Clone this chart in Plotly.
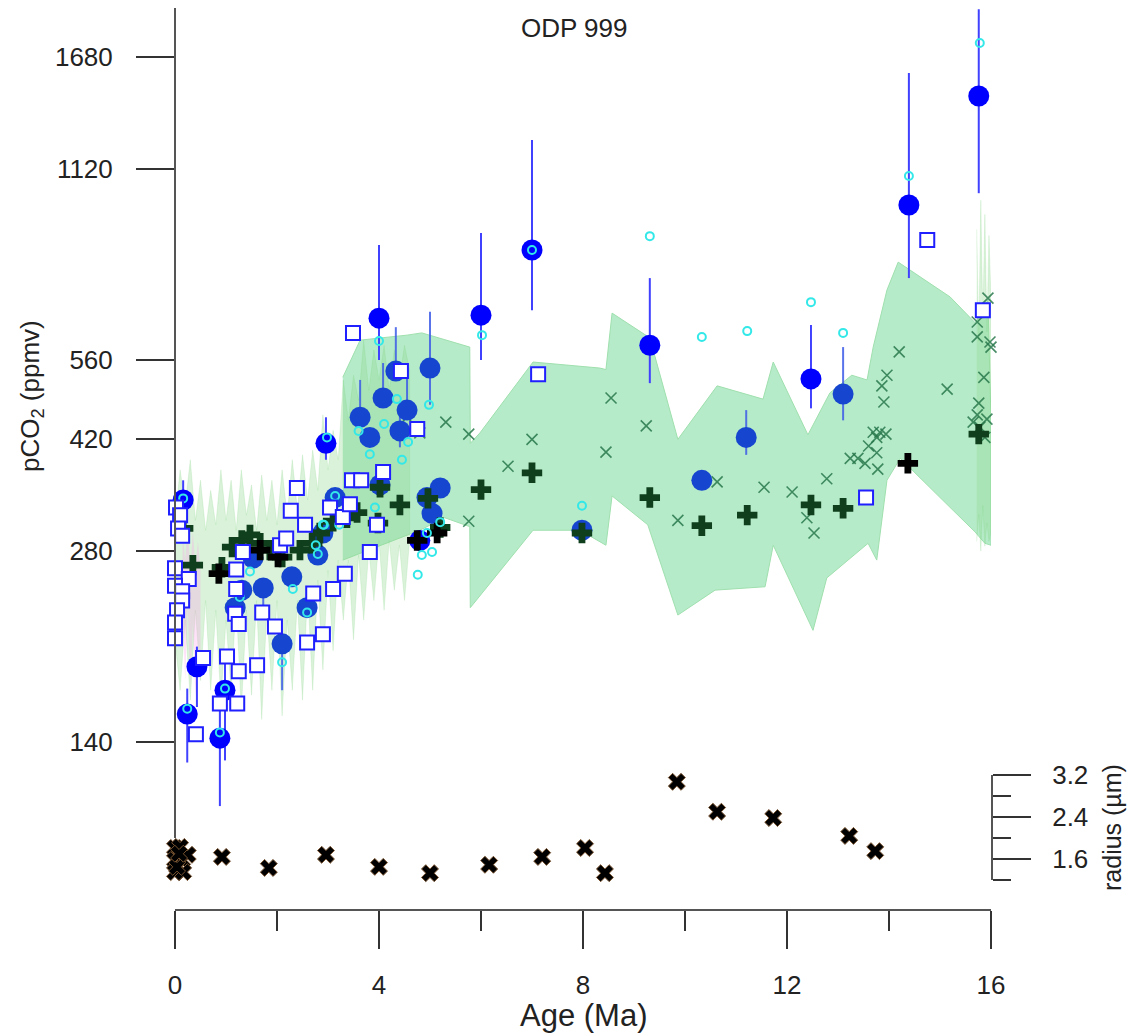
import plotly.graph_objects as go

W, H = 1130, 1036

# ---------------- data ----------------
# smoothed envelope (upper edge left->right, lower edge right->left)
band_age_upper = [3.29, 3.63, 4.55, 4.84, 5.78, 5.79, 5.98, 7.02, 8.33, 8.45, 8.57, 9.31, 9.86, 10.63, 11.53,
                  11.73, 12.41, 12.84, 13.27, 13.57, 13.69, 13.96, 14.18, 15.2, 15.69, 15.94, 16.0]
band_upper = [526, 602, 613, 618, 587, 414, 430, 556, 544, 541, 664, 607, 420, 510, 486,
              556, 427, 497, 530, 521, 587, 722, 799, 704, 641, 696, 450]
band_age_lower = [16.0, 15.88, 15.69, 14.22, 13.96, 13.76, 13.59, 12.78, 12.51, 11.73, 11.57, 10.59, 9.86,
                  9.27, 8.57, 8.45, 7.94, 7.02, 5.79, 5.78, 5.29, 4.8, 4.02, 3.29]
band_lower = [286, 288, 300, 392, 362, 271, 288, 254, 210, 286, 246, 243, 222,
              308, 342, 286, 302, 302, 228, 306, 316, 302, 286, 271]

# high-resolution spiky envelope
spike_age = [0.0, 0.1, 0.2, 0.3, 0.4, 0.5, 0.6, 0.7, 0.8, 0.9, 1.0, 1.1, 1.2, 1.3, 1.4, 1.5, 1.6, 1.7, 1.8, 1.9,
             2.0, 2.1, 2.2, 2.3, 2.4, 2.5, 2.6, 2.7, 2.8, 2.9, 3.0, 3.1, 3.2, 3.3, 3.4, 3.5, 3.6, 3.7, 3.8, 3.9,
             4.0, 4.1, 4.2, 4.3, 4.4, 4.5, 4.6]
spike_upper = [313, 376, 331, 390, 313, 362, 302, 349, 308, 376, 313, 362, 302, 376, 319, 356, 302, 369, 313, 362,
               308, 376, 319, 390, 325, 397, 337, 404, 349, 459, 376, 434, 390, 521, 450, 530, 484, 602, 502, 581,
               521, 591, 502, 581, 521, 591, 540]
spike_lower = [203, 169, 218, 163, 226, 175, 234, 169, 226, 163, 218, 169, 234, 157, 226, 166, 234, 152, 226, 169,
               234, 154, 218, 169, 234, 163, 243, 169, 252, 182, 261, 195, 271, 218, 271, 203, 276, 218, 281, 234,
               291, 226, 291, 243, 286, 234, 291]

spike2_age = [15.72, 15.76, 15.8, 15.84, 15.88, 15.92, 15.96, 16.0]
spike2_upper = [900, 600, 1000, 650, 950, 620, 880, 700]
spike2_lower = [290, 320, 280, 330, 285, 310, 290, 300]

pink_age = [0.15, 0.2, 0.25, 0.3, 0.35, 0.4, 0.45, 0.5]
pink_upper = [300, 270, 310, 260, 300, 265, 290, 260]
pink_lower = [220, 175, 230, 170, 215, 165, 200, 180]

# bright blue circles with error bars
bright_age = [0.16, 0.24, 0.43, 0.88, 0.98, 2.96, 4.0, 4.8, 6.0, 7.0, 9.31, 12.47, 14.39, 15.76]
bright_co2 = [337, 155, 184, 142, 169, 414, 652, 291, 659, 835, 591, 523, 983, 1460]
bright_hi = [362, 170, 198, 169, 188, 455, 850, 291, 888, 1244, 754, 636, 1587, 2000]
bright_lo = [321, 130, 159, 111, 131, 390, 560, 291, 560, 671, 515, 470, 754, 1026]

# royal blue circles with error bars
royal_age = [1.18, 1.31, 1.53, 1.73, 2.1, 2.29, 2.59, 2.8, 2.9, 3.14, 3.63, 3.82, 4.02, 4.08, 4.33, 4.41, 4.55,
             4.94, 5.0, 5.04, 5.2, 7.98, 10.33, 11.2, 13.1]
royal_co2 = [228, 243, 273, 245, 200, 255, 228, 276, 299, 340, 455, 423, 356, 488, 538, 433, 467,
             340, 544, 321, 352, 302, 362, 423, 495]
royal_hi = [228, 243, 273, 245, 200, 255, 228, 276, 299, 340, 521, 423, 356, 554, 631, 462, 554,
            340, 667, 321, 352, 302, 362, 467, 587]
royal_lo = [228, 243, 273, 229, 169, 255, 228, 276, 299, 340, 455, 423, 356, 488, 538, 408, 462,
            340, 476, 321, 352, 302, 362, 397, 450]

cyan_age = [0.16, 0.24, 0.98, 0.88, 1.47, 1.27, 2.31, 2.59, 2.1, 2.8, 2.9, 3.14, 2.98, 2.92, 3.22, 2.76, 3.6,
            3.82, 4.0, 4.1, 4.35, 4.57, 4.45, 4.98, 3.92, 5.2, 4.94, 4.84, 5.04, 4.76, 6.02, 7.0, 7.98, 9.31,
            10.33, 11.22, 12.47, 13.1, 14.39, 15.78]
cyan_co2 = [339, 158, 170, 145, 260, 237, 244, 224, 187, 277, 308, 342, 423, 308, 308, 286, 433,
            398, 600, 444, 486, 416, 390, 476, 328, 311, 299, 276, 279, 257, 613, 835, 330, 878,
            609, 622, 691, 618, 1092, 1769]

square_age = [0.02, 0.10, 0.06, 0.14, 0.0, 0.27, 0.0, 0.14, 0.14, 0.04, 0.0, 0.0, 0.55, 1.02, 1.25, 1.61, 0.41,
              0.88, 1.22, 1.2, 1.2, 1.33, 1.18, 1.25, 1.71, 1.96, 2.06, 2.18, 2.27, 2.39, 2.55, 2.71, 2.59, 2.9,
              3.1, 3.33, 3.04, 3.29, 3.43, 3.47, 3.65, 4.08, 3.96, 3.82, 3.49, 4.43, 4.75, 7.12, 14.75, 15.84, 13.55]
square_co2 = [328, 319, 304, 296, 263, 253, 247, 242, 234, 226, 216, 204, 190, 191, 181, 185, 144,
              161, 161, 262, 244, 279, 223, 215, 224, 213, 286, 293, 324, 352, 308, 240, 201, 207,
              244, 258, 328, 317, 332, 362, 362, 373, 308, 279, 618, 538, 436, 532, 866, 671, 340]

green_cross_age = [0.16, 0.35, 0.92, 1.12, 1.31, 1.47, 1.67, 1.86, 2.1, 2.45, 2.69, 2.84, 3.1, 3.37, 3.57, 3.98,
                   4.02, 4.41, 4.96, 5.2, 6.0, 7.0, 7.98, 9.31, 10.33, 11.22, 12.47, 13.1, 15.76]
green_cross_co2 = [304, 266, 264, 284, 291, 297, 288, 281, 274, 281, 288, 299, 312, 316, 322, 310,
                   353, 331, 339, 305, 350, 372, 299, 340, 307, 319, 331, 327, 428]

black_cross_age = [0.86, 1.67, 2.02, 4.75, 5.14, 14.37]
black_cross_co2 = [258, 281, 274, 291, 299, 385]

thin_x_age = [4.55, 4.8, 5.31, 5.76, 5.76, 6.53, 7.0, 8.45, 8.55, 9.24, 9.86, 10.63, 11.55, 12.1, 12.39,
              12.53, 12.78, 13.24, 13.39, 13.53, 13.78, 13.6, 13.76, 13.69, 13.82, 13.94, 13.76, 13.9, 13.86,
              13.96, 14.2, 15.14, 15.65, 15.73, 15.76, 15.78, 15.88, 15.92, 15.86, 15.73, 15.73, 15.98, 16.0, 15.94]
thin_x_co2 = [455, 430, 447, 428, 312, 381, 420, 401, 488, 441, 313, 360, 353, 347, 316,
              299, 364, 392, 392, 385, 377, 410, 400, 431, 431, 428, 423, 481, 510,
              530, 577, 504, 447, 459, 479, 439, 423, 452, 526, 609, 643, 598, 587, 701]

radius_age = [0.0, 0.1, 0.0, 0.14, 0.25, 0.0, 0.16, 0.04, 0.08, 0.92, 1.84, 2.96, 4.0, 5.0, 6.16, 7.2, 8.04,
              8.43, 9.84, 10.63, 11.73, 13.22, 13.73]
radius_um = [1.81, 1.83, 1.58, 1.58, 1.68, 1.35, 1.35, 1.45, 1.7, 1.64, 1.43, 1.68, 1.45, 1.33, 1.49, 1.64,
             1.81, 1.33, 3.07, 2.50, 2.38, 2.04, 1.75]

co2_ticks = [140, 280, 420, 560, 1120, 1680]
age_ticks = [0, 4, 8, 12, 16]
radius_ticks = [1.6, 2.4, 3.2]

# ---------------- figure ----------------
def fx(px):
    return px / W


def fy(py):
    return 1 - py / H


fig = go.Figure()

fig.add_trace(go.Scatter(
    x=band_age_upper + band_age_lower, y=band_upper + band_lower, fill='toself',
    fillcolor='#b6ebc9', line=dict(color='#9fe0ae', width=1), mode='lines', hoverinfo='skip'))

for ages, up, lo in [(spike_age, spike_upper, spike_lower), (spike2_age, spike2_upper, spike2_lower)]:
    fig.add_trace(go.Scatter(
        x=ages + ages[::-1], y=up + lo[::-1], fill='toself',
        fillcolor='rgba(140,215,140,0.33)', line=dict(color='rgba(120,210,120,0.35)', width=0.5),
        mode='lines', hoverinfo='skip'))

fig.add_trace(go.Scatter(
    x=pink_age + pink_age[::-1], y=pink_upper + pink_lower[::-1], fill='toself',
    fillcolor='rgba(255,160,235,0.3)', line=dict(width=0), mode='lines', hoverinfo='skip'))

fig.add_trace(go.Scatter(
    x=thin_x_age, y=thin_x_co2, mode='markers', cliponaxis=False,
    marker=dict(symbol='x-thin-open', size=11, color='rgba(40,120,75,0.85)',
                line=dict(color='rgba(40,120,75,0.85)', width=1.6))))

fig.add_trace(go.Scatter(
    x=royal_age, y=royal_co2, mode='markers', cliponaxis=False,
    error_y=dict(type='data', symmetric=False,
                 array=[h - v for h, v in zip(royal_hi, royal_co2)],
                 arrayminus=[v - l for v, l in zip(royal_co2, royal_lo)],
                 color='rgba(60,90,230,0.85)', thickness=2, width=0),
    marker=dict(size=21, color='#1646cf', line=dict(width=0))))

fig.add_trace(go.Scatter(
    x=bright_age, y=bright_co2, mode='markers', cliponaxis=False,
    error_y=dict(type='data', symmetric=False,
                 array=[h - v for h, v in zip(bright_hi, bright_co2)],
                 arrayminus=[v - l for v, l in zip(bright_co2, bright_lo)],
                 color='#4040ff', thickness=2, width=0),
    marker=dict(size=21, color='#0000ff', line=dict(width=0))))

fig.add_trace(go.Scatter(
    x=green_cross_age, y=green_cross_co2, mode='markers', cliponaxis=False,
    marker=dict(symbol='cross', size=17, color='#0f3f1c', line=dict(width=0))))

fig.add_trace(go.Scatter(
    x=black_cross_age, y=black_cross_co2, mode='markers', cliponaxis=False,
    marker=dict(symbol='cross', size=17, color='#000000', line=dict(width=0))))

fig.add_trace(go.Scatter(
    x=cyan_age, y=cyan_co2, mode='markers', cliponaxis=False,
    marker=dict(symbol='circle-open', size=8, color='#33e8e8', line=dict(color='#33e8e8', width=2))))

fig.add_trace(go.Scatter(
    x=square_age, y=square_co2, mode='markers', cliponaxis=False,
    marker=dict(symbol='square', size=14, color='white', line=dict(color='#1f1fff', width=2))))

fig.add_trace(go.Scatter(
    x=radius_age, y=radius_um, mode='markers', yaxis='y2', cliponaxis=False,
    marker=dict(symbol='x', size=15, color='#000000', line=dict(color='#7a5532', width=1))))

axis_common = dict(showline=True, linecolor='#555555', linewidth=2, ticks='outside', tickwidth=1.5,
                   tickcolor='#333333', showgrid=False, zeroline=False, automargin=False,
                   tickfont=dict(family='Liberation Sans, Arial', size=26, color='#222222'))

fig.update_layout(
    width=W, height=H, margin=dict(l=0, r=0, t=0, b=0, autoexpand=False),
    paper_bgcolor='white', plot_bgcolor='rgba(0,0,0,0)', showlegend=False,
    font=dict(family='Liberation Sans, Arial', color='#222222'),
    xaxis=dict(domain=[fx(175), fx(991)], range=[0, 16], anchor='free', position=fy(910),
               tickmode='linear', tick0=0, dtick=4, ticklen=38, ticklabelstandoff=14,
               minor=dict(ticks='outside', ticklen=20, tickmode='linear', tick0=0, dtick=2,
                          tickcolor='#333333', tickwidth=1.5),
               **axis_common),
    yaxis=dict(type='log', domain=[fy(838), fy(8)], range=[1.995, 3.303], anchor='free', position=fx(175),
               tickmode='array', tickvals=co2_ticks, ticktext=[str(v) for v in co2_ticks],
               ticklen=38, ticklabelstandoff=18, **axis_common),
    yaxis2=dict(domain=[fy(880), fy(775)], range=[1.2, 3.2], anchor='free', position=fx(992), side='right',
                tickmode='array', tickvals=radius_ticks, ticktext=['1.6', '2.4', '3.2'],
                ticklen=38, ticklabelstandoff=16,
                minor=dict(ticks='outside', ticklen=18, tickmode='linear', tick0=1.2, dtick=0.4,
                           tickcolor='#333333', tickwidth=1.5),
                **axis_common),
    annotations=[
        dict(text='ODP 999', x=fx(574), y=fy(28), xref='paper', yref='paper', showarrow=False,
             xanchor='center', yanchor='middle', font=dict(size=26, color='#222222')),
        dict(text='pCO<sub>2</sub> (ppmv)', x=fx(31), y=fy(396), xref='paper', yref='paper', showarrow=False,
             xanchor='center', yanchor='middle', textangle=-90, font=dict(size=26, color='#222222')),
        dict(text='Age (Ma)', x=fx(583), y=fy(1015), xref='paper', yref='paper', showarrow=False,
             xanchor='center', yanchor='middle', font=dict(size=31, color='#222222')),
        dict(text='radius (µm)', x=fx(1112), y=fy(828), xref='paper', yref='paper', showarrow=False,
             xanchor='center', yanchor='middle', textangle=-90, font=dict(size=25, color='#222222')),
    ],
)

fig.write_html('out.html')
